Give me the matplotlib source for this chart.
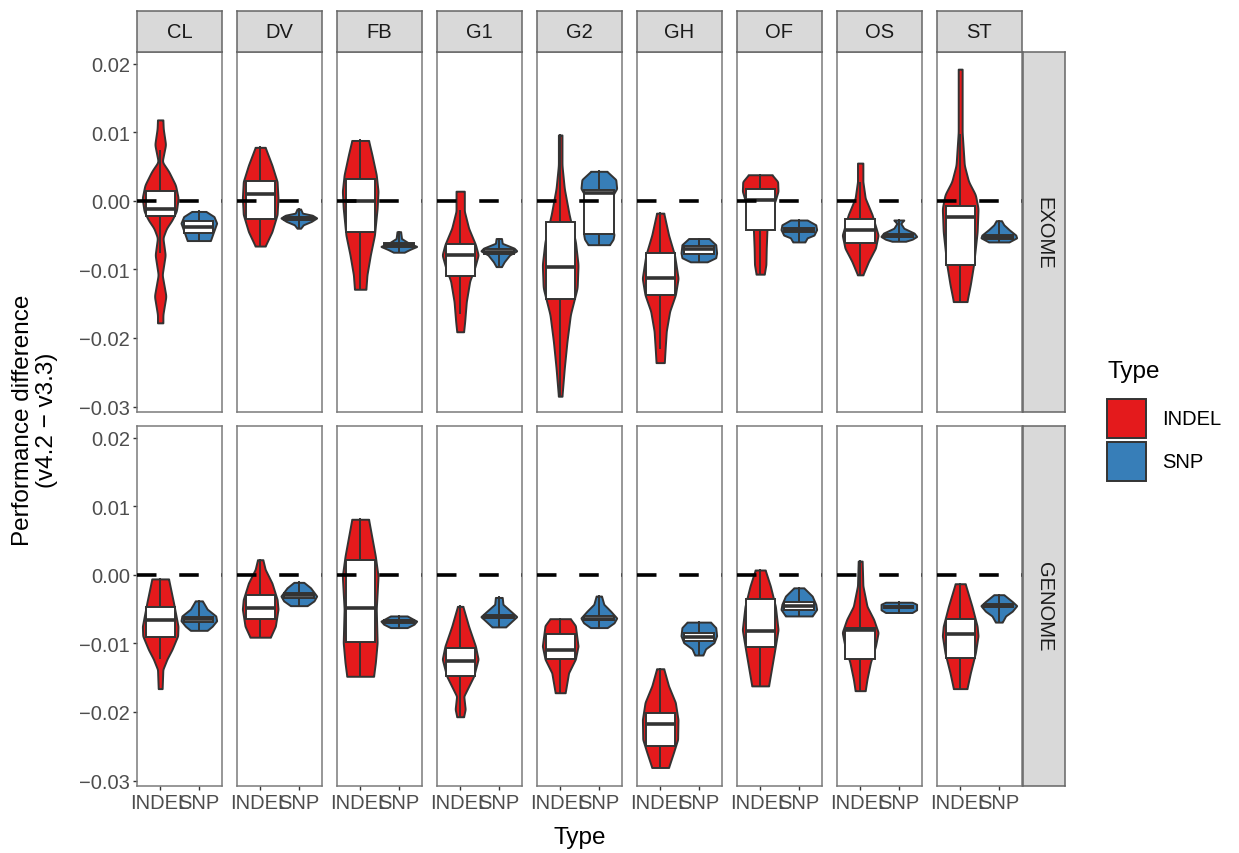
# Violin + box plots of v4.2 - v3.3 performance difference, faceted by caller and dataset
import numpy as np
import matplotlib
matplotlib.use("Agg")
import matplotlib.pyplot as plt
from matplotlib.patches import Rectangle

plt.rcParams.update({
    "font.family": ["Liberation Sans", "DejaVu Sans"],
    "axes.unicode_minus": True,
})

# ============================================
# Data (values in units of 1e-3)
# ============================================
FACETS = ["CL", "DV", "FB", "G1", "G2", "GH", "OF", "OS", "ST"]
ROWS = ["EXOME", "GENOME"]
TYPES = ["INDEL", "SNP"]
Y_TICKS = [0.02, 0.01, 0.00, -0.01, -0.02, -0.03]

# violin outlines: (value, relative half-width), top to bottom
EXOME_INDEL_VIOLIN = [
    [(11.8, .15), (10.5, .17), (8.2, .30), (5.7, .11), (4.3, .47), (2.3, .85), (0.4, 1.0), (-1.5, .90),
     (-2.8, .66), (-4.0, .35), (-5.4, .15), (-7.9, .28), (-10.8, .11), (-13.9, .32), (-16.6, .15), (-17.8, .15)],
    [(7.8, .28), (5.2, .66), (2.8, .95), (0.4, 1.0), (-2.0, .95), (-4.5, .66), (-6.6, .28)],
    [(8.8, .47), (6.7, .66), (3.8, .90), (1.4, 1.0), (-1.1, .95), (-5.0, .80), (-7.9, .57), (-10.8, .38), (-12.9, .32)],
    [(1.4, .23), (-1.5, .23), (-4.0, .47), (-6.4, .85), (-7.9, 1.0), (-9.8, .80), (-11.7, .53), (-14.7, .34),
     (-17.6, .25), (-19.1, .19)],
    [(9.6, .10), (5.2, .10), (1.8, .23), (-2.0, .50), (-5.9, .85), (-9.3, 1.0), (-12.7, .95), (-16.6, .57),
     (-20.5, .38), (-24.4, .23), (-28.5, .10)],
    [(-1.8, .20), (-5.0, .47), (-7.9, .80), (-11.3, 1.0), (-13.7, .85), (-16.1, .53), (-19.0, .34), (-21.4, .28), (-23.6, .23)],
    [(3.8, .66), (2.8, .98), (1.4, 1.0), (0.1, .85), (-2.0, .55), (-4.2, .38), (-6.9, .34), (-9.3, .32), (-10.7, .23)],
    [(5.5, .15), (2.8, .15), (0.4, .28), (-2.0, .66), (-5.0, 1.0), (-6.9, .85), (-8.8, .47), (-10.8, .15)],
    [(19.2, .11), (10.0, .11), (5.2, .23), (2.8, .47), (0.9, .85), (-1.1, 1.0), (-4.5, .95), (-9.3, .75),
     (-12.2, .57), (-14.7, .38)],
]
EXOME_SNP_VIOLIN = [
    [(-1.55, .40), (-2.3, .85), (-3.25, 1.0), (-4.7, .80), (-5.8, .65)],
    [(-1.2, .10), (-1.8, .20), (-2.1, .75), (-2.5, 1.0), (-3.0, .70), (-3.5, .25), (-4.0, .10)],
    [(-4.5, .10), (-5.5, .15), (-6.2, .57), (-6.65, 1.0), (-7.1, .60), (-7.5, .30)],
    [(-5.5, .15), (-6.2, .19), (-6.9, .85), (-7.3, 1.0), (-7.9, .60), (-8.9, .30), (-9.6, .15)],
    [(4.3, .45), (3.1, .95), (1.8, 1.0), (0.9, .80), (-2.0, .50), (-4.9, .85), (-5.6, .80), (-6.4, .60)],
    [(-5.5, .57), (-6.4, .95), (-7.6, 1.0), (-8.3, .95), (-8.9, .47)],
    [(-2.8, .47), (-3.5, .95), (-4.2, 1.0), (-5.0, .85), (-5.4, .47), (-6.0, .34)],
    [(-2.8, .28), (-3.3, .11), (-4.0, .28), (-4.7, .85), (-5.2, 1.0), (-5.6, .75), (-5.9, .38)],
    [(-2.9, .15), (-3.5, .28), (-4.2, .57), (-5.0, .95), (-5.4, 1.0), (-6.0, .57)],
]
GENOME_INDEL_VIOLIN = [
    [(-0.6, .47), (-4.1, .75), (-7.5, 1.0), (-8.9, .98), (-10.9, .66), (-12.3, .38), (-13.8, .15), (-16.6, .11)],
    [(2.2, .15), (0.8, .28), (-1.2, .66), (-3.6, .95), (-5.0, 1.0), (-7.5, .85), (-9.1, .57)],
    [(8.1, .47), (2.7, .85), (-0.2, 1.0), (-5.0, .90), (-9.9, .95), (-12.8, .85), (-14.8, .75)],
    [(-4.6, .15), (-7.5, .47), (-10.4, .85), (-12.3, 1.0), (-14.8, .75), (-17.7, .20), (-19.6, .28), (-20.7, .19)],
    [(-6.4, .57), (-7.4, .85), (-10.4, 1.0), (-12.3, .85), (-14.3, .47), (-17.2, .28)],
    [(-13.7, .20), (-16.2, .47), (-18.6, .85), (-21.1, 1.0), (-24.0, .98), (-25.9, .75), (-28.1, .47)],
    [(0.7, .28), (-1.65, .57), (-4.6, .85), (-8.0, 1.0), (-10.4, .85), (-13.3, .66), (-16.2, .47)],
    [(2.0, .11), (-1.6, .15), (-4.6, .38), (-6.5, .75), (-8.4, 1.0), (-10.4, .85), (-12.8, .57), (-15.2, .38), (-16.9, .28)],
    [(-1.3, .28), (-4.6, .66), (-7.5, .95), (-8.9, 1.0), (-11.4, .85), (-14.3, .57), (-16.6, .38)],
]
GENOME_SNP_VIOLIN = [
    [(-3.8, .20), (-5.0, .47), (-6.0, .95), (-6.7, 1.0), (-7.5, .75), (-8.1, .47)],
    [(-1.1, .28), (-1.9, .66), (-3.1, 1.0), (-3.8, .85), (-4.5, .47)],
    [(-6.0, .47), (-6.75, 1.0), (-7.2, .85), (-7.7, .47)],
    [(-3.3, .19), (-4.3, .23), (-5.3, .66), (-6.1, 1.0), (-6.7, .75), (-7.6, .38)],
    [(-3.1, .15), (-4.3, .28), (-5.3, .66), (-6.3, 1.0), (-7.0, .85), (-7.7, .47)],
    [(-6.9, .66), (-7.7, .95), (-8.9, 1.0), (-9.9, .85), (-10.8, .38), (-11.7, .23)],
    [(-1.9, .28), (-3.1, .75), (-4.3, .95), (-5.05, 1.0), (-6.0, .75)],
    [(-4.0, .75), (-4.3, 1.0), (-5.1, 1.0), (-5.5, .75)],
    [(-2.9, .28), (-3.9, .75), (-4.5, 1.0), (-5.3, .75), (-6.0, .38), (-6.9, .19)],
]

# box stats: (lower whisker, q1, median, q3, upper whisker)
EXOME_INDEL_BOX = [(-7.5, -2.2, -1.2, 1.5, 7.2), (-6.6, -2.6, 1.0, 2.9, 7.8), (-12.9, -4.6, -0.1, 3.2, 8.8),
                   (-16.4, -11.0, -7.9, -6.3, -1.5), (-28.5, -14.3, -9.7, -3.1, 9.6), (-21.4, -13.7, -11.3, -7.6, -1.8),
                   (-10.7, -4.2, 0.15, 1.75, 3.8), (-10.8, -6.2, -4.3, -2.6, 2.6), (-14.7, -9.4, -2.4, -0.8, 9.6)]
EXOME_SNP_BOX = [(-5.8, -4.7, -3.8, -3.0, -1.55), (-4.0, -2.8, -2.5, -2.3, -1.2), (-7.5, -6.8, -6.5, -6.2, -4.5),
                 (-9.6, -7.8, -7.4, -7.0, -5.5), (-6.4, -4.9, 1.1, 1.6, 4.3), (-8.9, -7.7, -7.1, -6.6, -5.5),
                 (-6.0, -4.5, -4.2, -3.9, -2.8), (-5.9, -5.3, -5.1, -4.9, -2.8), (-6.0, -5.5, -5.3, -5.0, -2.9)]
GENOME_INDEL_BOX = [(-12.1, -9.0, -6.6, -4.7, -0.6), (-9.1, -6.5, -4.8, -2.9, 2.2), (-14.8, -9.8, -4.8, 2.2, 8.1),
                    (-20.7, -14.8, -12.5, -10.7, -4.6), (-17.2, -12.3, -11.0, -8.7, -6.4), (-28.1, -24.9, -21.8, -20.1, -13.7),
                    (-16.2, -10.6, -8.2, -3.5, 0.7), (-16.9, -12.3, -8.1, -7.7, 2.0), (-16.6, -12.1, -8.7, -6.5, -1.3)]
GENOME_SNP_BOX = [(-8.1, -6.9, -6.5, -6.2, -3.8), (-4.5, -3.4, -3.0, -2.6, -1.1), (-7.7, -7.0, -6.8, -6.6, -6.0),
                  (-7.6, -6.3, -6.1, -5.9, -3.3), (-7.7, -6.6, -6.4, -6.0, -3.1), (-11.7, -9.6, -9.0, -8.5, -6.9),
                  (-6.0, -5.1, -4.6, -4.0, -1.9), (-5.5, -4.8, -4.7, -4.6, -4.0), (-6.9, -4.7, -4.5, -4.3, -2.9)]

VIOLINS = {("EXOME", "INDEL"): EXOME_INDEL_VIOLIN, ("EXOME", "SNP"): EXOME_SNP_VIOLIN,
           ("GENOME", "INDEL"): GENOME_INDEL_VIOLIN, ("GENOME", "SNP"): GENOME_SNP_VIOLIN}
BOXES = {("EXOME", "INDEL"): EXOME_INDEL_BOX, ("EXOME", "SNP"): EXOME_SNP_BOX,
         ("GENOME", "INDEL"): GENOME_INDEL_BOX, ("GENOME", "SNP"): GENOME_SNP_BOX}

# ============================================
# Style
# ============================================
FILL = {"INDEL": "#E41A1C", "SNP": "#377EB8"}
EDGE = "#333333"
STRIP_FILL = "#D9D9D9"
BORDER = "#7a7a7a"
STRIP_BORDER = "#666666"
TICK_COL = "#4D4D4D"
VIOLIN_HALF = 0.46
BOX_W = 0.76
SCALE = 1e-3
W, H = 1239, 854


def px_axes(fig, x0, y0, w, h):
    # place an axes from pixel box (top-left origin)
    return fig.add_axes([x0 / W, 1 - (y0 + h) / H, w / W, h / H])


def smooth_outline(knots):
    ys = np.array([k[0] for k in knots]) * SCALE
    ws = np.array([k[1] for k in knots])
    order = np.argsort(ys)
    grid = np.linspace(ys.min(), ys.max(), 240)
    w = np.interp(grid, ys[order], ws[order])
    kern = np.hanning(11)
    kern /= kern.sum()
    pad = len(kern) // 2
    w = np.convolve(np.pad(w, pad, mode="edge"), kern, mode="valid")
    w *= ws.max() / w.max()
    return grid, w


def draw_group(ax, xc, knots, stats, color):
    grid, w = smooth_outline(knots)
    ax.fill_betweenx(grid, xc - w * VIOLIN_HALF, xc + w * VIOLIN_HALF,
                     facecolor=color, edgecolor=EDGE, linewidth=1.4, zorder=2)
    lo, q1, med, q3, hi = [v * SCALE for v in stats]
    ax.plot([xc, xc], [q3, hi], color=EDGE, lw=1.4, zorder=3)
    ax.plot([xc, xc], [lo, q1], color=EDGE, lw=1.4, zorder=3)
    ax.add_patch(Rectangle((xc - BOX_W / 2, q1), BOX_W, q3 - q1, facecolor="white",
                           edgecolor=EDGE, linewidth=1.4, zorder=4))
    ax.plot([xc - BOX_W / 2, xc + BOX_W / 2], [med, med], color=EDGE, lw=2.6,
            solid_capstyle="butt", zorder=5)


def style_strip(sax):
    sax.set_facecolor(STRIP_FILL)
    sax.set_xticks([])
    sax.set_yticks([])
    for s in sax.spines.values():
        s.set_color(STRIP_BORDER)
        s.set_linewidth(1.1)


def main():
    fig = plt.figure(figsize=(W / 100, H / 100), dpi=100)

    row_top = [53, 427]
    panel_h = 360
    for r, row in enumerate(ROWS):
        for c, facet in enumerate(FACETS):
            x0 = 137 + 100 * c
            ax = px_axes(fig, x0, row_top[r], 85, panel_h)
            for t, typ in enumerate(TYPES):
                draw_group(ax, t + 1, VIOLINS[(row, typ)][c], BOXES[(row, typ)][c], FILL[typ])
            ax.axhline(0, color="black", lw=2.6, linestyle=(0, (5.4, 6.3)), zorder=6)
            ax.set_xlim(0.4, 2.6)
            ax.set_ylim(-0.0308, 0.0217)
            for s in ax.spines.values():
                s.set_color(BORDER)
                s.set_linewidth(1.1)
            ax.set_yticks(Y_TICKS)
            ax.set_xticks([1, 2])
            ax.tick_params(colors=EDGE, labelcolor=TICK_COL, labelsize=14.5, length=3, width=1.0, pad=2)
            if c == 0:
                ax.set_yticklabels([f"{v:.2f}".replace("-", "\u2212") for v in Y_TICKS])
            else:
                ax.tick_params(axis="y", left=False, labelleft=False)
            if r == 1:
                ax.set_xticklabels(TYPES)
            else:
                ax.tick_params(axis="x", bottom=False, labelbottom=False)

            # top strip
            if r == 0:
                sax = px_axes(fig, x0, 12, 85, 41)
                style_strip(sax)
                sax.text(0.5, 0.5, facet, ha="center", va="center", fontsize=14.5,
                         color="#1A1A1A", transform=sax.transAxes)

        # right strip
        rax = px_axes(fig, 1023, row_top[r], 42, panel_h)
        style_strip(rax)
        rax.text(0.5, 0.5, row, ha="center", va="center", rotation=-90, fontsize=14.5,
                 color="#1A1A1A", transform=rax.transAxes)

    # overlay for titles and legend (pixel coords)
    ov = fig.add_axes([0, 0, 1, 1], zorder=10)
    ov.set_xlim(0, W)
    ov.set_ylim(H, 0)
    ov.axis("off")
    ov.text(579.5, 838, "Type", ha="center", va="center", fontsize=17.5)
    ov.text(35, 420, "Performance difference\n(v4.2 \u2212 v3.3)", ha="center", va="center",
            rotation=90, fontsize=17.5, linespacing=1.1)
    ov.text(1107, 372, "Type", ha="left", va="center", fontsize=17.5)
    for k, typ in enumerate(TYPES):
        y0 = 400 + 43 * k
        ov.add_patch(Rectangle((1107, y0), 39, 39, facecolor=FILL[typ], edgecolor=EDGE, linewidth=1.4))
        ov.text(1162, y0 + 20, typ, ha="left", va="center", fontsize=14.5)

    fig.savefig("out.png", dpi=100)


if __name__ == "__main__":
    main()
